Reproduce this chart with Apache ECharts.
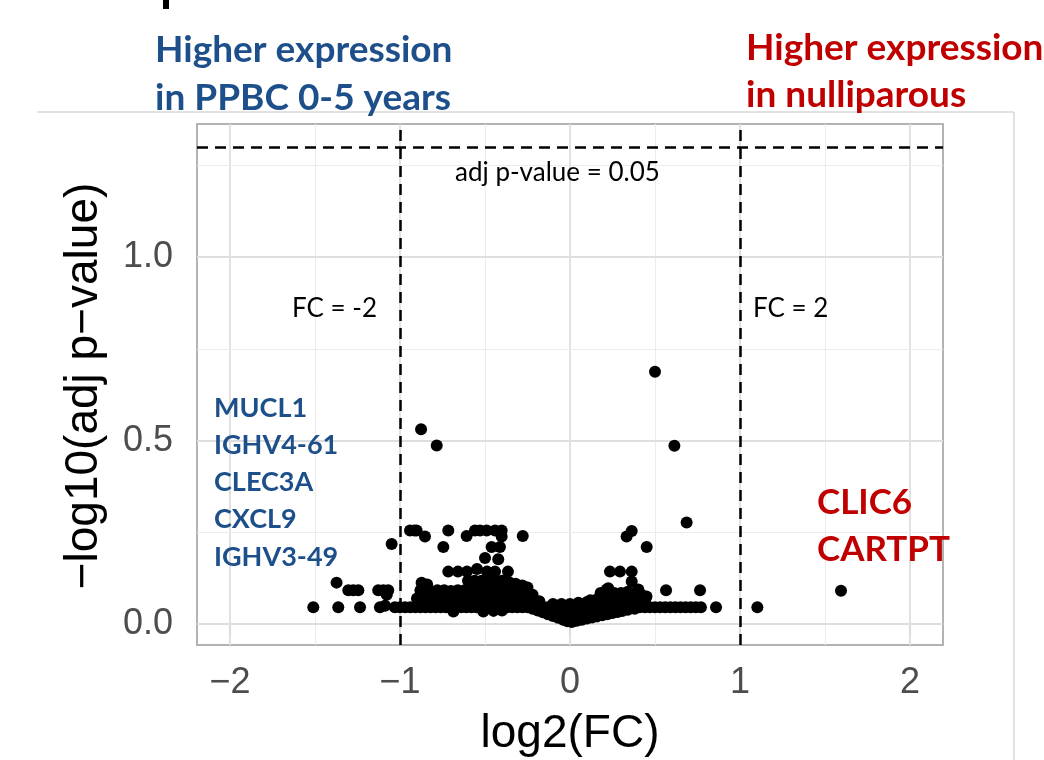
<!DOCTYPE html>
<html>
<head>
<meta charset="utf-8">
<style>
  html, body { margin: 0; padding: 0; background: #fff; }
  #chart { width: 1044px; height: 760px; }
</style>
<script src="https://cdn.jsdelivr.net/npm/echarts@6.0.0/dist/echarts.min.js"></script>
</head>
<body>
<div id="chart"></div>
<script>
// volcano plot data: [log2(FC), -log10(adj p-value)]
const leftTail = [
  [-1.51, 0.046], [-1.363, 0.046], [-1.235, 0.046], [-1.118, 0.046], [-1.088, 0.05],
  [-1.373, 0.113], [-1.304, 0.092], [-1.275, 0.092], [-1.245, 0.092], [-1.128, 0.092],
  [-1.098, 0.092], [-1.069, 0.092], [-1.078, 0.08], [-1.049, 0.218]
]
const leftUpper = [
  [-0.876, 0.531], [-0.784, 0.487],
  [-0.941, 0.255], [-0.915, 0.255], [-0.902, 0.255], [-0.853, 0.239], [-0.716, 0.255],
  [-0.745, 0.21], [-0.608, 0.24], [-0.559, 0.255], [-0.529, 0.255], [-0.49, 0.255],
  [-0.441, 0.255], [-0.402, 0.255], [-0.402, 0.239], [-0.278, 0.24], [-0.461, 0.21],
  [-0.412, 0.21], [-0.5, 0.18], [-0.422, 0.177],
  [-0.716, 0.143], [-0.659, 0.143], [-0.606, 0.143], [-0.547, 0.15], [-0.488, 0.143],
  [-0.441, 0.143], [-0.365, 0.143]
]
const leftBand = [
  [-0.873, 0.113], [-0.84, 0.108], [-0.6, 0.118], [-0.56, 0.118], [-0.52, 0.118], [-0.48, 0.118],
  [-0.44, 0.118], [-0.4, 0.118], [-0.36, 0.115], [-0.32, 0.11], [-0.28, 0.105], [-0.25, 0.1],
  [-0.88, 0.092], [-0.85, 0.092], [-0.82, 0.09], [-0.78, 0.092], [-0.74, 0.092], [-0.7, 0.09],
  [-0.66, 0.092], [-0.62, 0.092], [-0.58, 0.092], [-0.54, 0.092], [-0.5, 0.092], [-0.46, 0.092],
  [-0.42, 0.092], [-0.38, 0.092], [-0.34, 0.09], [-0.3, 0.088], [-0.26, 0.085], [-0.22, 0.08],
  [-0.9, 0.07], [-0.86, 0.07], [-0.82, 0.07], [-0.78, 0.07], [-0.74, 0.07], [-0.7, 0.07],
  [-0.66, 0.07], [-0.62, 0.07], [-0.58, 0.07], [-0.54, 0.07], [-0.5, 0.07], [-0.46, 0.07],
  [-0.42, 0.07], [-0.38, 0.07], [-0.34, 0.07], [-0.3, 0.068], [-0.26, 0.066], [-0.22, 0.064],
  [-0.18, 0.062],
  [-1.03, 0.046], [-1.0, 0.046], [-0.97, 0.046], [-0.94, 0.046], [-0.91, 0.046], [-0.88, 0.046],
  [-0.85, 0.046], [-0.82, 0.046], [-0.79, 0.046], [-0.76, 0.046], [-0.73, 0.046], [-0.7, 0.046],
  [-0.67, 0.046], [-0.64, 0.046], [-0.61, 0.046], [-0.58, 0.046], [-0.55, 0.046], [-0.52, 0.046],
  [-0.49, 0.046], [-0.46, 0.046], [-0.43, 0.046], [-0.4, 0.046], [-0.37, 0.046], [-0.34, 0.046],
  [-0.31, 0.046], [-0.28, 0.046],
  [-0.686, 0.034], [-0.51, 0.034], [-0.45, 0.036], [-0.4, 0.037]
]
const centerBand = [
  [-0.25, 0.046], [-0.22, 0.046], [-0.19, 0.046], [-0.16, 0.046], [-0.13, 0.046], [-0.1, 0.046],
  [-0.07, 0.046], [-0.04, 0.046], [-0.01, 0.046], [0.02, 0.046], [0.05, 0.046], [0.08, 0.046],
  [0.11, 0.046], [0.14, 0.046], [0.17, 0.046], [0.2, 0.046], [0.23, 0.046], [0.26, 0.046],
  [0.29, 0.046], [0.32, 0.046], [0.35, 0.046], [0.38, 0.046], [0.41, 0.046],
  [-0.22, 0.042], [-0.19, 0.037], [-0.16, 0.032], [-0.13, 0.027], [-0.1, 0.022], [-0.07, 0.017],
  [-0.04, 0.012], [-0.015, 0.008], [0.01, 0.006], [0.04, 0.009], [0.07, 0.012], [0.1, 0.015],
  [0.13, 0.018], [0.16, 0.021], [0.19, 0.024], [0.22, 0.027], [0.25, 0.03], [0.28, 0.033],
  [0.31, 0.036], [0.34, 0.039], [0.38, 0.042],
  [-0.15, 0.04], [-0.1, 0.035], [-0.05, 0.03], [-0.02, 0.022], [0.02, 0.022], [0.06, 0.028],
  [0.1, 0.032], [0.15, 0.038], [-0.06, 0.02], [0.0, 0.015], [0.05, 0.018], [0.12, 0.025],
  [-0.1, 0.055], [-0.05, 0.055], [0.0, 0.055], [0.05, 0.058], [0.1, 0.06]
]
const rightBand = [
  [0.18, 0.085], [0.22, 0.09], [0.26, 0.085], [0.3, 0.085], [0.34, 0.088], [0.38, 0.085], [0.42, 0.08],
  [0.12, 0.065], [0.16, 0.068], [0.2, 0.068], [0.24, 0.07], [0.28, 0.068], [0.32, 0.065],
  [0.36, 0.068], [0.4, 0.065], [0.44, 0.062], [0.41, 0.075], [0.45, 0.075],
  [0.44, 0.046], [0.47, 0.046], [0.5, 0.046], [0.53, 0.046], [0.56, 0.046], [0.59, 0.046],
  [0.62, 0.046], [0.65, 0.046], [0.68, 0.046], [0.71, 0.046], [0.74, 0.046], [0.77, 0.046]
]
const rightUpper = [
  [0.5, 0.688], [0.614, 0.486], [0.686, 0.277], [0.333, 0.239], [0.363, 0.254], [0.451, 0.21],
  [0.565, 0.092], [0.765, 0.092], [0.235, 0.143], [0.294, 0.143], [0.363, 0.143], [0.363, 0.116],
  [0.216, 0.094], [0.225, 0.098], [0.402, 0.094], [0.431, 0.075]
]
const rightTail = [[0.859, 0.046], [1.102, 0.046], [1.594, 0.091]]

const xTicks = [-2, -1, 0, 1, 2]
const yTicks = [0, 0.5, 1]
const xMinor = [-1.5, -0.5, 0.5, 1.5]
const yMinor = [0.25, 0.75, 1.25]
const fcCutoffs = [-1, 1]
const pCutoff = 1.30103 // -log10(0.05)

const downGenes = ['MUCL1', 'IGHV4-61', 'CLEC3A', 'CXCL9', 'IGHV3-49']
const upGenes = ['CLIC6', 'CARTPT']

const blue = '#1d4f8a'
const red = '#c00000'

const allPoints = [].concat(leftTail, leftUpper, leftBand, centerBand, rightBand, rightUpper, rightTail)

let gridLines = []
xTicks.forEach(v => gridLines.push({ xAxis: v, lineStyle: { color: '#dedede', width: 1.8, type: 'solid' } }))
xMinor.forEach(v => gridLines.push({ xAxis: v, lineStyle: { color: '#ececec', width: 1, type: 'solid' } }))
yTicks.forEach(v => gridLines.push({ yAxis: v, lineStyle: { color: '#dedede', width: 1.8, type: 'solid' } }))
yMinor.forEach(v => gridLines.push({ yAxis: v, lineStyle: { color: '#ececec', width: 1, type: 'solid' } }))

let cutLines = fcCutoffs.map(v => ({ xAxis: v }))
cutLines.push({ yAxis: pCutoff })

let graphics = [
  { type: 'line', shape: { x1: 37, y1: 112, x2: 1014, y2: 112 }, style: { stroke: '#d9d9d9', lineWidth: 1.5 }, z: 1 },
  { type: 'line', shape: { x1: 1014, y1: 112, x2: 1014, y2: 760 }, style: { stroke: '#d9d9d9', lineWidth: 1.5 }, z: 1 },
  { type: 'rect', shape: { x: 163, y: 0, width: 6, height: 9 }, style: { fill: '#000' } },
  { type: 'text', x: 155, y: 50, style: { text: 'Higher expression', font: 'bold 37px Lato', fill: blue, verticalAlign: 'middle' }, z: 10 },
  { type: 'text', x: 155, y: 98, style: { text: 'in PPBC 0-5 years', font: 'bold 37px Lato', fill: blue, verticalAlign: 'middle' }, z: 10 },
  { type: 'text', x: 746, y: 48, style: { text: 'Higher expression', font: 'bold 37px Lato', fill: red, verticalAlign: 'middle' }, z: 10 },
  { type: 'text', x: 746, y: 95, style: { text: 'in nulliparous', font: 'bold 37px Lato', fill: red, verticalAlign: 'middle' }, z: 10 },
  { type: 'text', x: 455, y: 173, style: { text: 'adj p-value = 0.05', font: '26px Lato', fill: '#000', verticalAlign: 'middle' }, z: 10 },
  { type: 'text', x: 377, y: 309, style: { text: 'FC = -2', font: '26px Lato', fill: '#000', align: 'right', verticalAlign: 'middle' }, z: 10 },
  { type: 'text', x: 753, y: 309, style: { text: 'FC = 2', font: '26px Lato', fill: '#000', verticalAlign: 'middle' }, z: 10 },
  { type: 'text', x: 570, y: 734, style: { text: 'log2(FC)', font: '46px "Liberation Sans"', fill: '#000', align: 'center', verticalAlign: 'middle' }, z: 10 },
  { type: 'text', x: 84, y: 386, rotation: Math.PI / 2, style: { text: '\u2212log10(adj p\u2212value)', font: '46px "Liberation Sans"', fill: '#000', align: 'center', verticalAlign: 'middle' }, z: 10 }
]
downGenes.forEach((g, i) => {
  graphics.push({ type: 'text', x: 214, y: 408 + i * 37.2, style: { text: g, font: 'bold 27px Lato', fill: blue, verticalAlign: 'middle' }, z: 10 })
})
upGenes.forEach((g, i) => {
  graphics.push({ type: 'text', x: 817, y: 503 + i * 46.5, style: { text: g, font: 'bold 35px Lato', fill: red, verticalAlign: 'middle' }, z: 10 })
})

const chart = echarts.init(document.getElementById('chart'))
chart.setOption({
  animation: false,
  backgroundColor: '#fff',
  grid: {
    left: 197, right: 101, top: 124, bottom: 115,
    show: true, borderColor: '#b3b3b3', borderWidth: 2, backgroundColor: 'transparent'
  },
  xAxis: {
    type: 'value',
    min: -2.194,
    max: 2.194,
    axisLine: { show: false },
    splitLine: { show: false },
    axisTick: { customValues: xTicks, length: 11, lineStyle: { color: '#b3b3b3', width: 2 } },
    axisLabel: {
      customValues: xTicks,
      margin: 20,
      color: '#4d4d4d',
      fontSize: 36,
      fontFamily: 'Liberation Sans',
      formatter: v => (v < 0 ? '\u2212' : '') + Math.abs(v)
    }
  },
  yAxis: {
    type: 'value',
    min: -0.057,
    max: 1.363,
    axisLine: { show: false },
    splitLine: { show: false },
    axisTick: { customValues: yTicks, length: 11, lineStyle: { color: '#b3b3b3', width: 2 } },
    axisLabel: {
      customValues: yTicks,
      margin: 24,
      color: '#4d4d4d',
      fontSize: 36,
      fontFamily: 'Liberation Sans',
      formatter: v => v.toFixed(1)
    }
  },
  graphic: graphics,
  series: [
    {
      name: 'grid',
      type: 'scatter',
      data: [],
      z: 1,
      silent: true,
      markLine: { z: 1, silent: true, symbol: ['none', 'none'], label: { show: false }, data: gridLines }
    },
    {
      name: 'genes',
      type: 'scatter',
      data: allPoints,
      symbol: 'circle',
      symbolSize: 12,
      itemStyle: { color: '#000', opacity: 1 },
      z: 3
    },
    {
      name: 'cutoffs',
      type: 'scatter',
      data: [],
      z: 4,
      silent: true,
      markLine: {
        z: 4,
        silent: true,
        symbol: ['none', 'none'],
        label: { show: false },
        lineStyle: { color: '#000', width: 2.5, type: [11, 7] },
        data: cutLines
      }
    }
  ]
})
</script>
</body>
</html>
